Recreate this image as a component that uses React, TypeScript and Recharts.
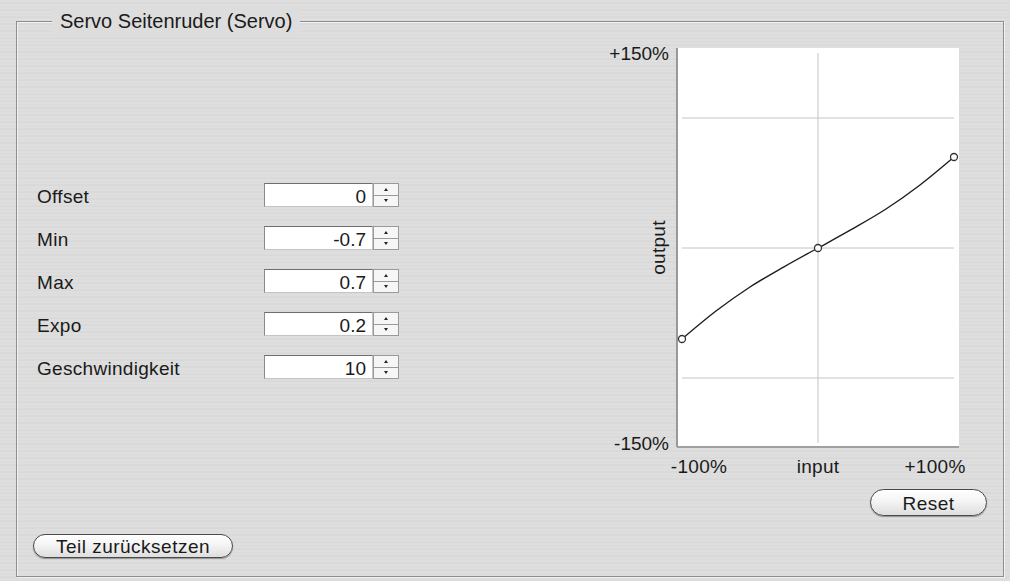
import React from "react";
import {
  ComposedChart,
  Line,
  Scatter,
  XAxis,
  YAxis,
  ReferenceLine,
} from "recharts";

// ---- data ----
const curveInput = [-100, -75, -50, -25, 0, 25, 50, 75, 100];
const curveOutput = [-70, -48.5, -30, -14.5, 0, 14.5, 30, 48.5, 70];
const markerInput = [-100, 0, 100];
const markerOutput = [-70, 0, 70];
const xTickValues = [-100, 0, 100];
const xTickLabels = ["-100%", "input", "+100%"];
const yTickValues = [-150, 150];
const yTickLabels = ["-150%", "+150%"];
const gridY = [-100, 0, 100];
const gridX = [0];
const fieldLabels = ["Offset", "Min", "Max", "Expo", "Geschwindigkeit"];
const fieldValues = ["0", "-0.7", "0.7", "0.2", "10"];
const panelTitle = "Servo Seitenruder (Servo)";
const resetLabel = "Reset";
const partResetLabel = "Teil zurücksetzen";

const curveData = curveInput.map((x, i) => ({ x, y: curveOutput[i] }));
const markerData = markerInput.map((x, i) => ({ x, y: markerOutput[i] }));

const FONT = '"Liberation Sans", Arial, Helvetica, sans-serif';
const TXT = "#1a1a1a";

const XTick = (props: any) => {
  const { x, y, payload } = props;
  const idx = xTickValues.indexOf(payload.value);
  const shift = idx === 0 ? 17 : idx === 2 ? -19 : 0;
  return (
    <text
      x={x + shift}
      y={y + 18}
      textAnchor="middle"
      fontSize={19}
      fontFamily={FONT}
      fill={TXT}
      letterSpacing={0.3}
    >
      {xTickLabels[idx]}
    </text>
  );
};

const yFmt = (v: number) => yTickLabels[yTickValues.indexOf(v)] ?? "";

const Pill = ({ left, top, width, height, label }: any) => (
  <div
    style={{
      position: "absolute",
      left,
      top,
      width,
      height,
      boxSizing: "border-box",
      border: "1px solid #4a4a4a",
      borderRadius: height / 2,
      background: "linear-gradient(#ffffff 0%, #f4f4f4 45%, #dedede 100%)",
      boxShadow: "0 1px 1px rgba(0,0,0,0.35)",
      font: `19px ${FONT}`,
      letterSpacing: 0.5,
      color: TXT,
      display: "flex",
      alignItems: "center",
      justifyContent: "center",
      lineHeight: 1,
      paddingTop: 1,
    }}
  >
    {label}
  </div>
);

const Spinner = ({ left, top }: any) => (
  <div
    style={{
      position: "absolute",
      left,
      top,
      width: 26,
      height: 24,
      boxSizing: "border-box",
      border: "1px solid #9a9a9a",
      background: "#f6f6f6",
    }}
  >
    <div
      style={{
        position: "absolute",
        left: 0,
        top: 11,
        width: 24,
        height: 1,
        background: "#9a9a9a",
      }}
    />
    <div
      style={{
        position: "absolute",
        left: 10,
        top: 4,
        width: 0,
        height: 0,
        borderLeft: "2px solid transparent",
        borderRight: "2px solid transparent",
        borderBottom: "3px solid #222",
      }}
    />
    <div
      style={{
        position: "absolute",
        left: 10,
        top: 15,
        width: 0,
        height: 0,
        borderLeft: "2px solid transparent",
        borderRight: "2px solid transparent",
        borderTop: "3px solid #222",
      }}
    />
  </div>
);

export default function App() {
  return (
    <div
      style={{
        position: "absolute",
        left: 0,
        top: 0,
        width: 1010,
        height: 581,
        overflow: "hidden",
        fontFamily: FONT,
        background:
          "repeating-linear-gradient(180deg, #dedede 0px, #dedede 2px, #d7d7d7 3px, #dbdbdb 4px, #e1e1e1 5px, #d9d9d9 7px)",
      }}
    >
      {/* fieldset frame */}
      <div
        style={{
          position: "absolute",
          left: 16,
          top: 21,
          width: 988,
          height: 556,
          boxSizing: "border-box",
          border: "1px solid #8e8e8e",
          boxShadow: "1px 1px 0 rgba(255,255,255,0.6), inset 1px 1px 0 rgba(255,255,255,0.6)",
        }}
      />
      <div
        style={{
          position: "absolute",
          left: 52,
          top: 8,
          padding: "0 8px",
          background: "#dddddd",
          font: `20px ${FONT}`,
          color: TXT,
          lineHeight: "26px",
          whiteSpace: "nowrap",
        }}
      >
        {panelTitle}
      </div>

      {/* form fields */}
      {fieldLabels.map((lab, i) => {
        const top = 183 + i * 43;
        return (
          <React.Fragment key={lab}>
            <div
              style={{
                position: "absolute",
                left: 37,
                top: top + 3,
                height: 24,
                lineHeight: "24px",
                font: `19px ${FONT}`,
                letterSpacing: 0.3,
                color: TXT,
                whiteSpace: "nowrap",
              }}
            >
              {lab}
            </div>
            <div
              style={{
                position: "absolute",
                left: 264,
                top,
                width: 109,
                height: 24,
                boxSizing: "border-box",
                background: "#ffffff",
                borderTop: "1px solid #6e6e6e",
                borderLeft: "1px solid #8a8a8a",
                borderRight: "1px solid #c4c4c4",
                borderBottom: "1px solid #c4c4c4",
                font: `19px ${FONT}`,
                color: TXT,
                textAlign: "right",
                paddingRight: 6,
                paddingTop: 2,
                lineHeight: "22px",
              }}
            >
              {fieldValues[i]}
            </div>
            <Spinner left={373} top={top} />
          </React.Fragment>
        );
      })}

      <Pill left={33} top={534} width={200} height={24} label={partResetLabel} />
      <Pill left={870} top={489} width={117} height={27} label={resetLabel} />

      {/* chart */}
      <div style={{ position: "absolute", left: 590, top: 30 }}>
        <ComposedChart
          width={410}
          height={460}
          data={curveData}
          margin={{ top: 18, right: 41, left: 0, bottom: 0 }}
          style={{ fontFamily: FONT }}
        >
          <rect x={87} y={18} width={282} height={399} fill="#ffffff" />
          <XAxis
            dataKey="x"
            type="number"
            domain={[-100, 100]}
            ticks={xTickValues}
            padding={{ left: 5, right: 5 }}
            height={43}
            tickLine={false}
            axisLine={{ stroke: "#a0a0a0", strokeWidth: 2 }}
            tick={<XTick />}
            interval={0}
          />
          <XAxis
            xAxisId="top"
            dataKey="x"
            type="number"
            orientation="top"
            domain={[-100, 100]}
            height={0}
            tick={false}
            tickLine={false}
            axisLine={{ stroke: "#a0a0a0", strokeWidth: 2 }}
          />
          <YAxis
            type="number"
            domain={[-150, 150]}
            ticks={yTickValues}
            padding={{ top: 5, bottom: 4 }}
            width={87}
            tickLine={false}
            axisLine={{ stroke: "#999999", strokeWidth: 2 }}
            tickFormatter={yFmt}
            tick={{ fontSize: 19, fill: TXT, fontFamily: FONT }}
            interval={0}
            label={{
              value: "output",
              angle: -90,
              position: "center",
              dx: 25,
              style: { fontSize: 19, fill: TXT, fontFamily: FONT, letterSpacing: 0.3 },
            }}
          />
          <YAxis
            yAxisId="right"
            type="number"
            orientation="right"
            domain={[-150, 150]}
            width={0}
            tick={false}
            tickLine={false}
            axisLine={{ stroke: "#a8a8a8", strokeWidth: 2 }}
          />
          {gridY.map((gy) => (
            <ReferenceLine
              key={"gy" + gy}
              segment={[
                { x: -100, y: gy },
                { x: 100, y: gy },
              ]}
              stroke="#c4c4c4"
              strokeWidth={1}
            />
          ))}
          {gridX.map((gx) => (
            <ReferenceLine
              key={"gx" + gx}
              segment={[
                { x: gx, y: -150 },
                { x: gx, y: 150 },
              ]}
              stroke="#c4c4c4"
              strokeWidth={1}
            />
          ))}
          <Line
            dataKey="y"
            type="monotone"
            stroke="#1e1e1e"
            strokeWidth={1.4}
            dot={false}
            activeDot={false}
            isAnimationActive={false}
          />
          <Scatter
            data={markerData}
            dataKey="y"
            fill="#ffffff"
            stroke="#333333"
            strokeWidth={1.3}
            shape={(p: any) => (
              <circle cx={p.cx} cy={p.cy} r={3.5} fill="#fff" stroke="#333" strokeWidth={1.3} />
            )}
            isAnimationActive={false}
          />
        </ComposedChart>
      </div>
    </div>
  );
}
